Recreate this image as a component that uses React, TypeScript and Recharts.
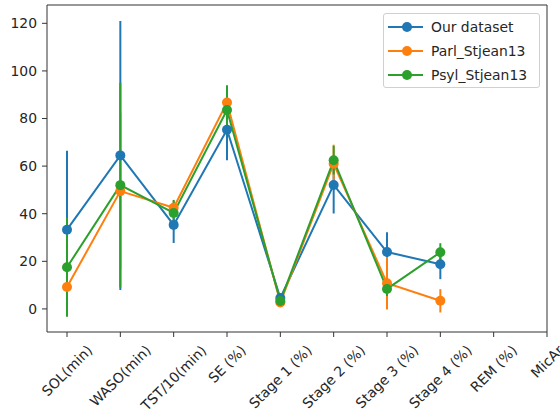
import React from 'react';
import { LineChart, Line, XAxis, YAxis, ErrorBar, ReferenceArea, Legend } from 'recharts';

const categories = ['SOL(min)', 'WASO(min)', 'TST/10(min)', 'SE (%)', 'Stage 1 (%)', 'Stage 2 (%)', 'Stage 3 (%)', 'Stage 4 (%)', 'REM (%)', 'MicAr'];
const yTicks = [0, 20, 40, 60, 80, 100, 120];

const ourMean = [33.3, 64.5, 35.3, 75.3, 4.6, 52.1, 23.9, 18.8];
const ourErr = [33.2, 56.5, 7.6, 12.8, 1.5, 12, 8.3, 6.3];
const parlMean = [9.2, 49.5, 42.5, 86.7, 2.7, 61, 10.8, 3.4];
const parlErr = [8, 33, 3, 7, 1, 8, 11, 4.9];
const psylMean = [17.5, 52, 40.3, 83.6, 3.3, 62.5, 8.4, 23.8];
const psylErr = [20.8, 43, 5.5, 10.4, 1.5, 6, 3, 3.8];

const seriesNames = ['Our dataset', 'Parl_Stjean13', 'Psyl_Stjean13'];
const colors = ['#1f77b4', '#ff7f0e', '#2ca02c'];

const data = ourMean.map((_, i) => ({
  x: i,
  a: ourMean[i], aErr: ourErr[i],
  b: parlMean[i], bErr: parlErr[i],
  c: psylMean[i], cErr: psylErr[i],
}));

const FONT = '"DejaVu Sans", sans-serif';
const FS = 13.9;
const TEXT = '#262626';
const AX = '#333';

let ctx: CanvasRenderingContext2D | null = null;
function measure(s: string): number {
  if (!ctx) {
    const c = document.createElement('canvas');
    ctx = c.getContext('2d');
  }
  if (!ctx) return s.length * 8;
  ctx.font = `${FS}px "DejaVu Sans"`;
  return ctx.measureText(s).width;
}

const XTick = (props: any) => {
  const { x, y, payload } = props;
  const label = categories[payload.value] ?? '';
  const L = measure(label);
  const h = FS * 1.17;
  const side = (L + h) / Math.SQRT2;
  const cx = x;
  const cy = y + side / 2;
  return (
    <text x={cx} y={cy} textAnchor="middle" dominantBaseline="central" fontSize={FS} fontFamily={FONT} fill={TEXT}
      transform={`rotate(-45, ${cx}, ${cy})`}>
      {label}
    </text>
  );
};

const LegendBox = () => (
  <div style={{
    width: 157, height: 75, boxSizing: 'border-box', border: '1px solid #d0d0d0', borderRadius: 3,
    background: 'rgba(255,255,255,0.8)', fontFamily: FONT, fontSize: FS, color: TEXT, position: 'relative',
  }}>
    {seriesNames.map((n, i) => (
      <div key={n} style={{ position: 'absolute', left: 0, top: 4 + i * 24, height: 20, width: 157 }}>
        <svg width={40} height={20} style={{ position: 'absolute', left: 3, top: 0 }}>
          <line x1={1} y1={9} x2={36} y2={9} stroke={colors[i]} strokeWidth={2} />
          <circle cx={20} cy={9} r={5} fill={colors[i]} />
        </svg>
        <span style={{ position: 'absolute', left: 47, top: 0, lineHeight: '18px', whiteSpace: 'nowrap' }}>{n}</span>
      </div>
    ))}
  </div>
);

export default function App() {
  const keys = ['a', 'b', 'c'];
  return (
    <div style={{ position: 'absolute', left: 0, top: 0, width: 560, height: 416, background: '#fff' }}>
      <LineChart width={560} height={416} data={data} margin={{ top: 5, right: 13, bottom: 0, left: 0 }}
        style={{ fontFamily: FONT }}>
        <XAxis dataKey="x" type="number" domain={[-0.375, 9]} ticks={[0, 1, 2, 3, 4, 5, 6, 7, 8, 9]}
          allowDataOverflow interval={0} height={84} tickSize={5} tickMargin={5}
          axisLine={false} tickLine={{ stroke: AX, strokeWidth: 1 }} tick={<XTick />} />
        <YAxis type="number" domain={[-9.7, 127.7]} ticks={yTicks} allowDataOverflow width={47}
          tickSize={5} tickMargin={5} axisLine={false} tickLine={{ stroke: AX, strokeWidth: 1 }}
          tick={{ fontSize: FS, fill: TEXT, fontFamily: FONT }} />
        <ReferenceArea x1={-0.375} x2={9} y1={-9.7} y2={127.7} fill="none" stroke={AX} strokeWidth={1} ifOverflow="visible" />
        {keys.map((k, i) => (
          <Line key={k} dataKey={k} name={seriesNames[i]} stroke={colors[i]} strokeWidth={2} isAnimationActive={false}
            dot={{ r: 5, fill: colors[i], stroke: colors[i], strokeWidth: 0 }} activeDot={false} connectNulls={false}>
            <ErrorBar dataKey={`${k}Err`} direction="y" width={0} stroke={colors[i]} strokeWidth={2} isAnimationActive={false} />
          </Line>
        ))}
        <Legend layout="horizontal" verticalAlign="middle" align="center"
          wrapperStyle={{ position: 'absolute', left: 383, top: 13, width: 157, height: 75 }}
          content={() => <LegendBox />} />
      </LineChart>
    </div>
  );
}
